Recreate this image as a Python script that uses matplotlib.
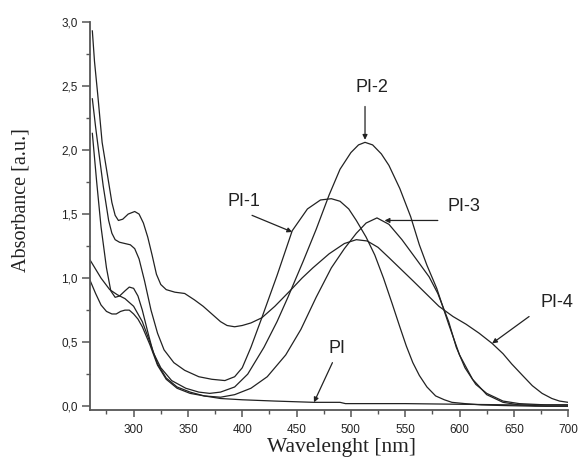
import matplotlib
matplotlib.use("Agg")
import matplotlib.pyplot as plt
from matplotlib.ticker import MultipleLocator

# UV-Vis absorbance spectra, wavelength [nm] vs absorbance [a.u.]
pi4_wl = [262, 264, 267, 271, 276, 280, 283, 286, 290, 295, 301, 305, 309, 313, 317, 321,
          325, 330, 338, 347, 356, 364, 372, 380, 386, 393, 400, 408, 418, 430, 445, 455,
          465, 480, 494, 505, 515, 525, 535, 546, 557, 569, 581, 594, 606, 618, 630, 640,
          648, 658, 667, 676, 685, 692, 700]
pi4_abs = [2.93, 2.69, 2.43, 2.06, 1.80, 1.59, 1.49, 1.45, 1.46, 1.50, 1.52, 1.50, 1.43, 1.32,
           1.18, 1.03, 0.95, 0.91, 0.89, 0.88, 0.83, 0.78, 0.72, 0.66, 0.63, 0.62, 0.63, 0.65,
           0.69, 0.78, 0.91, 1.00, 1.08, 1.19, 1.27, 1.30, 1.29, 1.24, 1.16, 1.07, 0.98, 0.88,
           0.78, 0.70, 0.64, 0.57, 0.49, 0.41, 0.33, 0.24, 0.16, 0.10, 0.06, 0.04, 0.03]

pi1_wl = [262, 265, 268, 272, 277, 280, 283, 287, 292, 297, 301, 305, 310, 316, 322, 328,
          337, 347, 360, 372, 384, 393, 400, 408, 418, 432, 446, 460, 472, 482, 490, 498,
          505, 514, 522, 530, 538, 545, 551, 557, 563, 570, 578, 586, 593, 605, 620, 640,
          670, 700]
pi1_abs = [2.40, 2.18, 1.98, 1.72, 1.45, 1.35, 1.30, 1.28, 1.27, 1.26, 1.23, 1.15, 0.98, 0.75,
           0.57, 0.44, 0.34, 0.28, 0.23, 0.21, 0.20, 0.23, 0.30, 0.46, 0.69, 1.02, 1.37, 1.54,
           1.61, 1.62, 1.60, 1.54, 1.45, 1.32, 1.18, 1.00, 0.80, 0.62, 0.47, 0.34, 0.24, 0.15,
           0.08, 0.05, 0.03, 0.02, 0.01, 0.005, 0.0, 0.0]

pi2_wl = [262, 266, 270, 275, 279, 283, 287, 292, 296, 300, 304, 308, 313, 318, 325, 335,
          348, 360, 370, 380, 393, 405, 420, 432, 442, 456, 468, 480, 490, 500, 507, 513,
          520, 528, 535, 545, 555, 563, 570, 579, 590, 600, 612, 625, 640, 655, 680, 700]
pi2_abs = [2.13, 1.75, 1.40, 1.08, 0.90, 0.85, 0.86, 0.90, 0.93, 0.92, 0.86, 0.75, 0.58, 0.42,
           0.30, 0.20, 0.14, 0.11, 0.10, 0.11, 0.15, 0.25, 0.46, 0.66, 0.85, 1.13, 1.38, 1.65,
           1.85, 1.98, 2.04, 2.06, 2.04, 1.97, 1.88, 1.70, 1.48, 1.26, 1.10, 0.92, 0.64, 0.40,
           0.21, 0.09, 0.03, 0.01, 0.0, 0.0]

pi3_wl = [260, 265, 270, 278, 285, 292, 300, 308, 315, 322, 330, 340, 352, 365, 380, 393,
          408, 423, 440, 454, 468, 482, 494, 505, 514, 524, 535, 547, 560, 572, 580, 590,
          597, 605, 615, 625, 640, 655, 680, 700]
pi3_abs = [1.14, 1.07, 1.00, 0.91, 0.87, 0.84, 0.78, 0.66, 0.50, 0.33, 0.22, 0.15, 0.11, 0.08,
           0.07, 0.09, 0.14, 0.23, 0.40, 0.60, 0.85, 1.08, 1.23, 1.35, 1.43, 1.47, 1.42, 1.30,
           1.15, 1.01, 0.88, 0.66, 0.46, 0.30, 0.17, 0.10, 0.04, 0.02, 0.01, 0.01]

pi_wl = [260, 265, 270, 275, 280, 284, 288, 292, 296, 300, 304, 308, 315, 322, 330, 340,
         352, 365, 380, 400, 430, 466, 490, 495, 550, 600, 650, 700]
pi_abs = [0.98, 0.88, 0.79, 0.74, 0.72, 0.72, 0.74, 0.75, 0.75, 0.72, 0.68, 0.62, 0.48, 0.32,
          0.21, 0.14, 0.10, 0.08, 0.06, 0.05, 0.04, 0.03, 0.03, 0.02, 0.02, 0.015, 0.01, 0.01]

x_ticks = [300, 350, 400, 450, 500, 550, 600, 650, 700]
y_ticks = [0.0, 0.5, 1.0, 1.5, 2.0, 2.5, 3.0]
y_tick_labels = ["0,0", "0,5", "1,0", "1,5", "2,0", "2,5", "3,0"]

# label text, text position, arrow tail, arrow head
labels = [
    ("PI-2", (519, 2.49), (513, 2.34), (513, 2.08)),
    ("PI-1", (402, 1.60), (409, 1.49), (446, 1.36)),
    ("PI-3", (604, 1.56), (580, 1.45), (531, 1.45)),
    ("PI-4", (690, 0.81), (664, 0.70), (630, 0.49)),
    ("PI", (487, 0.45), (483, 0.34), (466, 0.03)),
]

fig = plt.figure(figsize=(5.78, 4.67), dpi=100)
ax = fig.add_axes([0.156, 0.122, 0.827, 0.831])

line_kw = dict(color="#222222", lw=0.9)
for wl, ab in [(pi4_wl, pi4_abs), (pi1_wl, pi1_abs), (pi2_wl, pi2_abs),
               (pi3_wl, pi3_abs), (pi_wl, pi_abs)]:
    ax.plot(wl, ab, **line_kw)

ax.set_xlim(260, 700)
ax.set_ylim(-0.03, 3.0)

for side in ("top", "right"):
    ax.spines[side].set_visible(False)
for side in ("left", "bottom"):
    ax.spines[side].set_color("#555555")
    ax.spines[side].set_linewidth(1.3)

ax.set_xticks(x_ticks)
ax.xaxis.set_minor_locator(MultipleLocator(25))
ax.set_yticks(y_ticks)
ax.set_yticklabels(y_tick_labels)
ax.yaxis.set_minor_locator(MultipleLocator(0.25))
ax.tick_params(which="major", direction="out", length=5, width=1.1, color="#555555",
               labelsize=8.5, labelcolor="#222222")
ax.tick_params(which="minor", direction="out", length=3, width=1.0, color="#555555")
ax.tick_params(axis="x", which="major", pad=5)
ax.tick_params(axis="y", which="major", pad=3, length=6)
for lab in ax.get_xticklabels() + ax.get_yticklabels():
    lab.set_family("Liberation Sans")

ax.set_xlabel("Wavelenght [nm]", family="Liberation Serif", fontsize=15.5, color="#222222")
ax.set_ylabel("Absorbance [a.u.]", family="Liberation Serif", fontsize=14.5, color="#222222")
ax.xaxis.set_label_coords(0.525, -0.072)
ax.yaxis.set_label_coords(-0.125, 0.54)

for text, xy_text, tail, head in labels:
    ax.text(*xy_text, text, ha="center", va="center", family="Liberation Sans",
            fontsize=13, color="#222222")
    ax.annotate("", xy=head, xytext=tail,
                arrowprops=dict(arrowstyle="-|>", color="#222222", lw=0.9,
                                mutation_scale=7, shrinkA=0, shrinkB=0))

fig.savefig("out.png", dpi=100)
